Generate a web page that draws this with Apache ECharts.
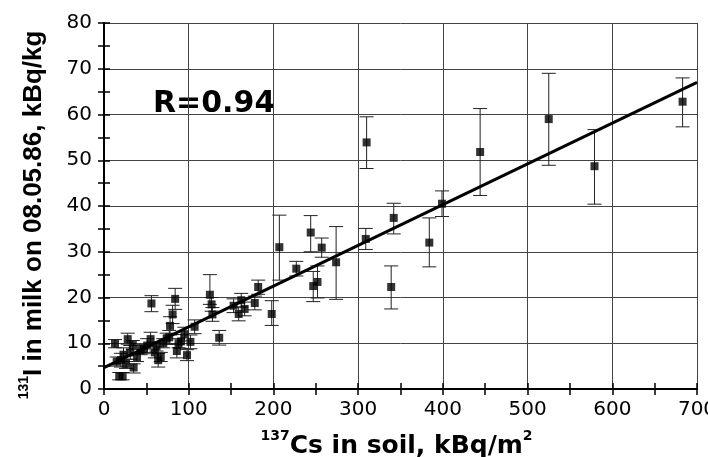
<!DOCTYPE html>
<html>
<head>
<meta charset="utf-8">
<script src="https://cdn.jsdelivr.net/npm/echarts@6/dist/echarts.min.js"></script>
<style>html,body{margin:0;padding:0;background:#fff}#c{width:708px;height:457px}</style>
</head>
<body>
<div id="c"></div>
<script>
// ---- data ----
const csSoil = [13,15,18,22,20,23,26,28,31,34,35,39,43,47,51,55,56,60,62,64,67,70,74,77,78,81,84,86,88,91,95,98,102,107,125,127,128,136,153,159,162,166,178,182,198,207,227,244,247,252,257,274,309,310,339,342,384,399,444,525,579,683];
const iMilk  = [9.9,6.0,2.8,2.8,6.3,7.5,5.5,10.9,8.0,9.6,4.7,7.0,8.5,8.7,9.5,10.9,18.7,8.0,9.3,6.3,7.0,10.0,11.0,11.3,13.8,16.3,19.7,8.3,10.0,10.4,12.0,7.4,10.3,13.6,20.6,18.5,16.3,11.2,18.2,16.4,19.4,17.5,18.8,22.3,16.4,31.0,26.3,34.2,22.5,23.4,30.9,27.7,32.8,53.9,22.3,37.4,32.0,40.5,51.8,59.0,48.7,62.8];
const iLow   = [9.0,5.0,2.0,2.0,4.8,6.0,4.5,9.8,6.5,8.6,3.5,6.0,7.5,7.7,8.0,9.4,16.9,6.8,8.3,4.8,6.0,9.0,9.8,9.8,11.8,14.3,17.4,6.8,9.0,8.9,10.5,6.2,8.8,12.1,18.5,17.0,14.8,9.6,16.7,14.9,17.9,16.0,17.3,20.7,13.9,23.8,24.7,30.0,19.1,19.9,28.8,19.6,30.5,48.2,17.5,33.9,26.7,37.7,42.3,48.9,40.4,57.3];
const iHigh  = [10.8,7.0,3.6,3.6,7.8,9.0,6.5,12.2,9.5,10.6,5.5,8.0,9.5,9.7,11.0,12.4,20.4,9.2,10.3,7.8,8.0,11.0,12.2,12.8,15.8,18.3,22.0,9.8,11.0,11.9,13.5,8.6,11.8,15.1,25.0,20.0,17.8,12.8,19.7,17.9,20.9,19.0,20.3,23.8,19.3,38.0,27.9,37.9,25.7,26.9,33.0,35.5,35.1,59.5,26.9,40.6,37.4,43.3,61.3,69.0,56.7,68.0];
const fitX = [0, 700];
const fitY = [4.66, 67.0];
const xTicks = [0,100,200,300,400,500,600,700];
const yTicks = [0,10,20,30,40,50,60,70,80];
const rLabel = 'R=0.94';

const WIDE = '"DejaVu Sans", Verdana, sans-serif';
const ARIAL = '"Liberation Sans", Arial, sans-serif';
const chart = echarts.init(document.getElementById('c'), null, {renderer:'canvas'});

const axisCommon = {
  axisLine:{show:true, lineStyle:{color:'#000', width:2}},
  axisTick:{show:true, inside:true, length:6, lineStyle:{color:'#000', width:1.5}},
  minorTick:{show:true, splitNumber:2, length:6, lineStyle:{color:'#000', width:1.5}},
};

const option = {
  animation:false,
  backgroundColor:'#fff',
  grid:{left:104, right:11, top:23, bottom:68, containLabel:false, outerBoundsMode:'none'},
  xAxis:[{
    type:'value', min:xTicks[0], max:xTicks[xTicks.length-1], interval:100,
    ...axisCommon,
    splitLine:{show:true, lineStyle:{color:'#444', width:1}},
    axisLabel:{fontFamily:WIDE, fontSize:20, color:'#000', margin:11},
    name:'{s|137}{b|Cs in soil, kBq/m}{s|2}',
    nameLocation:'middle', nameGap:40,
    nameTextStyle:{padding:[0,8,0,0], rich:{
      b:{fontFamily:WIDE, fontWeight:'bold', fontSize:25, color:'#000', lineHeight:30, verticalAlign:'bottom'},
      s:{fontFamily:WIDE, fontWeight:'bold', fontSize:14, color:'#000', lineHeight:14, verticalAlign:'top'}
    }}
  },{
    type:'value', position:'top', min:0, max:700, interval:100,
    ...axisCommon, axisLabel:{show:false}, splitLine:{show:false}
  }],
  yAxis:[{
    type:'value', min:yTicks[0], max:yTicks[yTicks.length-1], interval:10,
    ...axisCommon,
    splitLine:{show:true, lineStyle:{color:'#444', width:1}},
    axisLabel:{fontFamily:WIDE, fontSize:20, color:'#000', margin:12},
    name:'{s|131}{b|I in milk on 08.05.86, kBq/kg}',
    nameLocation:'middle', nameGap:57,
    nameTextStyle:{padding:[0,18,0,0], rich:{
      b:{fontFamily:ARIAL, fontWeight:'bold', fontSize:26, color:'#000', lineHeight:30, verticalAlign:'bottom'},
      s:{fontFamily:ARIAL, fontWeight:'bold', fontSize:14, color:'#000', lineHeight:14, verticalAlign:'top'}
    }}
  },{
    type:'value', position:'right', min:0, max:80, interval:10,
    ...axisCommon, axisLabel:{show:false}, splitLine:{show:false}
  }],
  graphic:[{
    type:'text', left:153, top:89,
    style:{text:rLabel, fontFamily:WIDE, fontWeight:'bold', fontSize:30, fill:'#000'}
  }],
  series:[
    {
      type:'custom', name:'err', xAxisIndex:0, yAxisIndex:0,
      data: csSoil.map((x,i)=>[x, iLow[i], iHigh[i]]),
      renderItem:function(params, api){
        const x = api.value(0), lo = api.value(1), hi = api.value(2);
        const pl = api.coord([x, lo]), ph = api.coord([x, hi]);
        const w = 7;
        const st = {stroke:'#222', lineWidth:1};
        return {type:'group', children:[
          {type:'line', shape:{x1:pl[0], y1:pl[1], x2:ph[0], y2:ph[1]}, style:st},
          {type:'line', shape:{x1:pl[0]-w, y1:pl[1], x2:pl[0]+w, y2:pl[1]}, style:st},
          {type:'line', shape:{x1:ph[0]-w, y1:ph[1], x2:ph[0]+w, y2:ph[1]}, style:st}
        ]};
      },
      z:2
    },
    {
      type:'scatter', symbol:'rect', symbolSize:8,
      itemStyle:{color:'#000'},
      data: csSoil.map((x,i)=>[x, iMilk[i]]),
      z:4
    },
    {
      type:'line', showSymbol:false, symbol:'none',
      lineStyle:{color:'#000', width:3},
      data: fitX.map((x,i)=>[x, fitY[i]]),
      z:3
    }
  ]
};
chart.setOption(option);
</script>
</body>
</html>
